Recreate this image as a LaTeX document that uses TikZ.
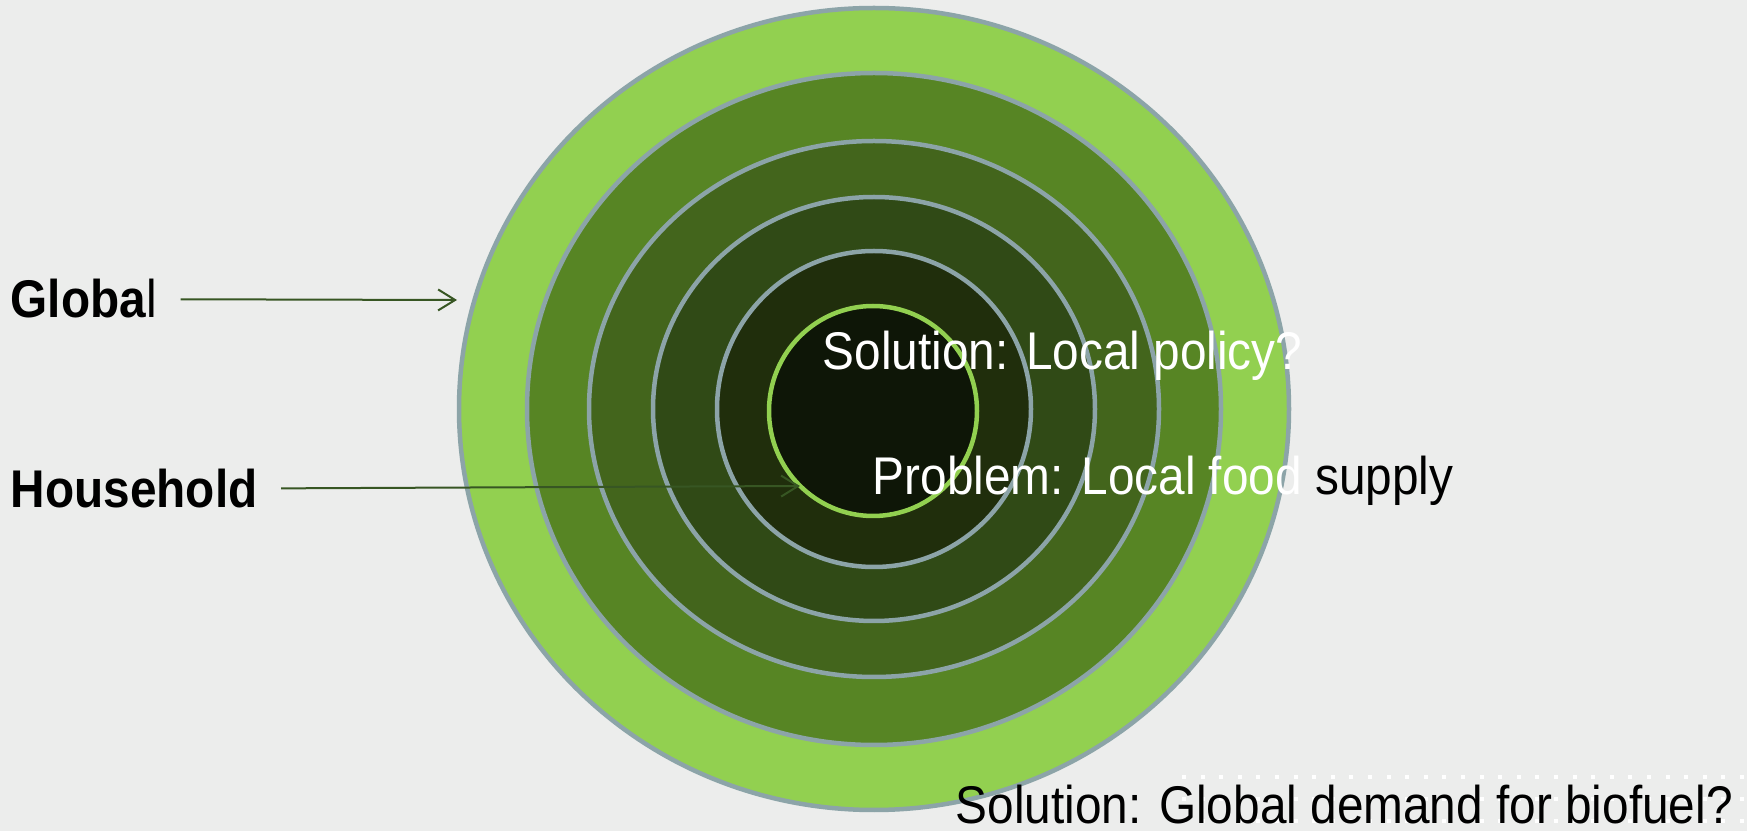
\documentclass[tikz,border=0pt]{standalone}
\usepackage{fontspec}
\setmainfont[FakeStretch=0.9]{Liberation Sans}
\usetikzlibrary{arrows.meta}
\definecolor{backgray}{RGB}{236,237,236}
\definecolor{rimgray}{RGB}{140,164,168}
\definecolor{ringone}{RGB}{146,208,80}
\definecolor{ringtwo}{RGB}{87,133,36}
\definecolor{ringthree}{RGB}{67,101,28}
\definecolor{ringfour}{RGB}{48,74,22}
\definecolor{ringfive}{RGB}{32,46,12}
\definecolor{ringcore}{RGB}{14,22,7}
\definecolor{pointercolor}{RGB}{55,86,35}
\newcommand{\ctrx}{874}
\newcommand{\ctry}{409}
\newcommand{\rimwidth}{0.45mm}
\newcommand{\labelfont}{\fontsize{15.1pt}{18pt}\selectfont}

\begin{document}
\begin{tikzpicture}[x=0.1mm, y=-0.1mm, >={Straight Barb[length=1.7mm, width=2.1mm]}]
        \useasboundingbox (0,0) rectangle (1747,831);
        \fill[backgray] (0,0) rectangle (1747,831);
        \coordinate (O) at (\ctrx, \ctry);
        \coordinate (core) at (\ctrx-1, \ctry+2);
        
        % rings
        \filldraw[fill=ringone, draw=rimgray, line width=\rimwidth] (O) ellipse [x radius=415, y radius=401];
        \filldraw[fill=ringtwo, draw=rimgray, line width=\rimwidth] (O) ellipse [x radius=347, y radius=336];
        \filldraw[fill=ringthree, draw=rimgray, line width=\rimwidth] (O) ellipse [x radius=285, y radius=268];
        \filldraw[fill=ringfour, draw=rimgray, line width=\rimwidth] (O) ellipse [x radius=221, y radius=212];
        \filldraw[fill=ringfive, draw=rimgray, line width=\rimwidth] (O) ellipse [x radius=157, y radius=158];
        \filldraw[fill=ringcore, draw=ringone, line width=\rimwidth] (core) ellipse [x radius=104, y radius=105];
        
        % dotted pattern
        \foreach \row in {777, 799, 821} {
            \foreach \col in {0,...,30} {
                \fill[white] (1182+\col*18.6, \row-2) rectangle ++(4,4);
            }
        }
        
        % labels
        \node [anchor=base west, inner sep=0, font=\labelfont] (glob) at (10, 318) {\textbf{Globa}l};
        \node [anchor=base west, inner sep=0, font=\labelfont] (house) at (10, 508) {\textbf{Household}};
        \node [anchor=base west, inner sep=0, font=\labelfont, text=white] (localsol) at (822, 370) {Solution: Local policy?};
        \node [anchor=base west, inner sep=0, font=\labelfont, text=white] (prob) at (872, 495) {Problem: Local food \textcolor{black}{supply}};
        \node [anchor=base west, inner sep=0, font=\labelfont] (globsol) at (955, 823) {Solution: Global demand for biofuel?};
        
        % arrows
        \coordinate (globtip) at (457, 300);
        \coordinate (housetip) at (800, 486);
        \draw[->, pointercolor, line width=0.2mm, shorten <=2.3mm] (glob) -- (globtip);
        \draw[->, pointercolor, line width=0.2mm, shorten <=2.3mm] (house) -- (housetip);
    \end{tikzpicture}
\end{document}
